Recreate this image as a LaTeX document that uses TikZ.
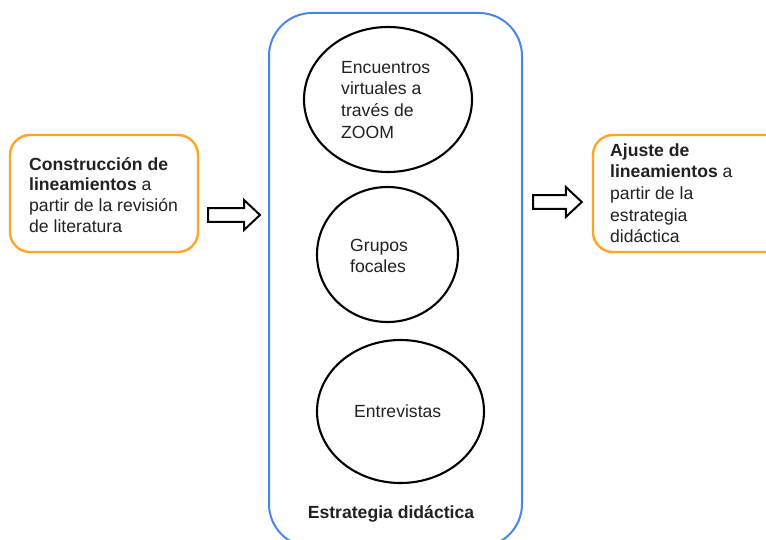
\documentclass[tikz,border=0pt]{standalone}
\usepackage{fontspec}
\setmainfont{Liberation Sans}
\usetikzlibrary{shapes.geometric,calc}

\definecolor{boxorange}{RGB}{255,166,38}
\definecolor{boxblue}{RGB}{74,134,232}
\definecolor{inkgray}{RGB}{34,34,34}

% fixed ascent for the first line of a text block
\newcommand\firstlinestrut{\rule{0pt}{14pt}}
% hollow block arrow from #1 (tail) to #2 (tip)
\newcommand\blockarrow[2]{%
  \draw[blockarr] ($(#1)+(0,-6.8)$) -- ($(#2)+(-16,-6.8)$) -- ($(#2)+(-16,-15)$)
    -- (#2) -- ($(#2)+(-16,15)$) -- ($(#2)+(-16,6.8)$) -- ($(#1)+(0,6.8)$) -- cycle;}

\tikzset{
  stagebox/.style={draw=boxorange, line width=2.4pt, rounded corners=20pt, inner sep=0pt},
  strategybox/.style={draw=boxblue, line width=2pt, rounded corners=43pt, inner sep=0pt},
  method/.style={draw=black, line width=2.1pt, ellipse, inner sep=0pt},
  blocktext/.style={inner sep=0pt, anchor=north west, align=left, text=inkgray},
  blockarr/.style={draw=black, line width=2pt, fill=white, line join=miter},
  txt/.style={font=\fontsize{17.6}{21.7}\selectfont},
}

\begin{document}
\begin{tikzpicture}[x=1pt,y=-1pt]
  \useasboundingbox (0,0) rectangle (766,540);
  \clip (0,0) rectangle (766,540);
  \fill[white] (0,0) rectangle (766,540);

  % side stages
  \node[stagebox, minimum width=188pt, minimum height=117pt] (build) at (104,193.5) {};
  \node[stagebox, minimum width=200pt, minimum height=117pt] (adjust) at (693,193.5) {};

  % central strategy container
  \node[strategybox, minimum width=253pt, minimum height=534pt] (strategy) at (395.5,280) {};

  % methods inside the strategy
  \node[method, minimum width=168pt, minimum height=145pt] (zoom) at (388,99.5) {};
  \node[method, minimum width=141pt, minimum height=135pt] (focus) at (387.5,254.5) {};
  \node[method, minimum width=167pt, minimum height=143pt] (interv) at (400.5,411.5) {};

  % texts
  \node[blocktext, font=\fontsize{17.6}{20.8}\selectfont] (buildtxt) at (29,156)
    {\firstlinestrut\textbf{Construcción de}\\\textbf{lineamientos} a\\partir de la revisión\\de literatura};
  \node[blocktext, txt] (adjusttxt) at (610,142)
    {\firstlinestrut\textbf{Ajuste de}\\\textbf{lineamientos} a\\partir de la\\estrategia\\didáctica};
  \node[blocktext, txt] (zoomtxt) at (341,59)
    {\firstlinestrut Encuentros\\virtuales a\\través de\\ZOOM};
  \node[blocktext, txt] (focustxt) at (350,237)
    {\firstlinestrut Grupos\\focales};
  \node[txt, inner sep=0pt, anchor=base west, text=inkgray] (intervtxt) at (354,417) {Entrevistas};
  \node[inner sep=0pt, anchor=base, text=inkgray, font=\fontsize{17.6}{21.7}\selectfont\bfseries] (strategytxt) at (391,518) {Estrategia didáctica};

  % flow arrows
  \coordinate (a1s) at ($(build.east)+(9,21.5)$);
  \coordinate (a1e) at ($(strategy.west)+(-8,-65)$);
  \coordinate (a1e) at (a1e |- a1s);
  \coordinate (a2s) at ($(strategy.east)+(10,-78)$);
  \coordinate (a2e) at ($(adjust.west)+(-10,8.5)$);
  \coordinate (a2e) at (a2e |- a2s);
  \blockarrow{a1s}{a1e}
  \blockarrow{a2s}{a2e}
\end{tikzpicture}
\end{document}
